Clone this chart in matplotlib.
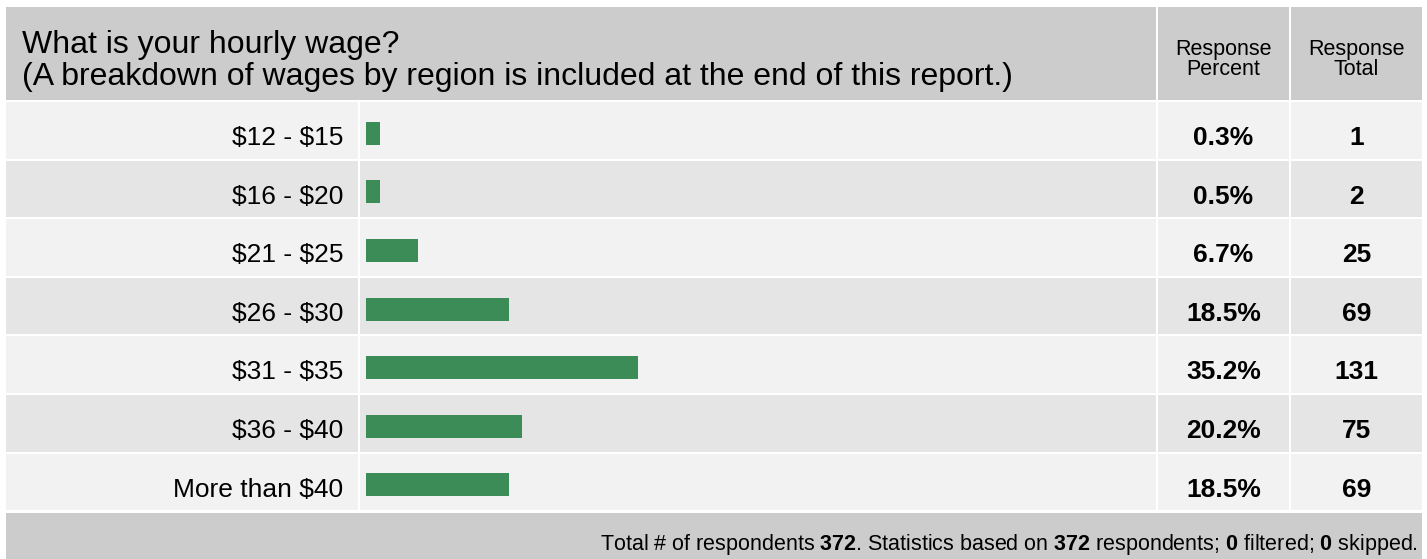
import matplotlib as mpl
mpl.use('Agg')
import matplotlib.pyplot as plt
import matplotlib.patches as mpatches
import numpy as np

mpl.rcParams['font.family'] = ['Liberation Sans', 'DejaVu Sans']
mpl.rcParams['mathtext.fontset'] = 'custom'
mpl.rcParams['mathtext.rm'] = 'Liberation Sans'
mpl.rcParams['mathtext.bf'] = 'Liberation Sans:bold'

# data
question = "What is your hourly wage?"
subtitle = "(A breakdown of wages by region is included at the end of this report.)"
categories = ["$12 - $15", "$16 - $20", "$21 - $25", "$26 - $30",
              "$31 - $35", "$36 - $40", "More than $40"]
percents = [0.3, 0.5, 6.7, 18.5, 35.2, 20.2, 18.5]
totals = [1, 2, 25, 69, 131, 75, 69]
n_respondents = 372
n_based = 372
n_filtered = 0
n_skipped = 0

W, H = 1427, 559
fig = plt.figure(figsize=(W / 100, H / 100), dpi=100)
fig.patch.set_facecolor('white')

bg = fig.add_axes([0, 0, 1, 1])
bg.set_xlim(0, W)
bg.set_ylim(H, 0)
bg.axis('off')

header_c = '#cccccc'
row_c = ['#f2f2f2', '#e5e5e5']
bar_c = '#3c8c58'

left, right = 6, 1422
c1, c2, c3 = 358, 1156, 1289   # column dividers (2px white gaps)
top, head_bot = 7, 100
row0, row_h, gap = 102, 58.6, 2
foot_top = 513

def cell(x0, x1, y0, y1, c):
    bg.add_patch(mpatches.Rectangle((x0, y0), x1 - x0, y1 - y0, color=c, lw=0))

# header
cell(left, c2, top, head_bot, header_c)
cell(c2 + 2, c3, top, head_bot, header_c)
cell(c3 + 2, right, top, head_bot, header_c)
bg.text(22, 53, question, fontsize=23, va='baseline', ha='left')
bg.text(22, 85, subtitle, fontsize=23, va='baseline', ha='left')
pc = (c2 + 2 + c3) / 2
tc = (c3 + 2 + right) / 2
for xc, l2 in [(pc, 'Percent'), (tc, 'Total')]:
    bg.text(xc, 55, 'Response', fontsize=15.5, ha='center', va='baseline')
    bg.text(xc, 75, l2, fontsize=15.5, ha='center', va='baseline')

# rows
for i, (cat, p, t) in enumerate(zip(categories, percents, totals)):
    y0 = row0 + i * row_h
    y1 = y0 + row_h - gap
    c = row_c[i % 2]
    cell(left, c1, y0, y1, c)
    cell(c1 + 2, c2, y0, y1, c)
    cell(c2 + 2, c3, y0, y1, c)
    cell(c3 + 2, right, y0, y1, c)
    bg.text(343, y0 + 43, cat, fontsize=19, ha='right', va='baseline', parse_math=False)
    bg.text(pc, y0 + 43, f'{p:.1f}%', fontsize=19, ha='center', va='baseline', fontweight='bold')
    bg.text(tc, y0 + 43, str(t), fontsize=19, ha='center', va='baseline', fontweight='bold')

# footer
cell(left, right, foot_top, H + 5, header_c)
foot = (f"Total # of respondents $\\mathbf{{{n_respondents}}}$. Statistics based on "
        f"$\\mathbf{{{n_based}}}$ respondents; $\\mathbf{{{n_filtered}}}$ filtered; "
        f"$\\mathbf{{{n_skipped}}}$ skipped.")
bg.text(1418, 550, foot, fontsize=15.5, ha='right', va='baseline')

# bars
px_per_pct = 272 / 35.2
bx0 = 366
ax = fig.add_axes([bx0 / W, 1 - (row0 + 2 + 7 * row_h) / H,
                   (c2 - bx0) / W, 7 * row_h / H])
ax.patch.set_alpha(0)
ax.axis('off')
y = np.arange(len(categories))
ax.barh(y, np.maximum(percents, 1.8), height=23 / row_h, color=bar_c, left=0)
ax.set_xlim(0, (c2 - bx0) / px_per_pct)
ax.set_ylim(len(categories) - 0.5, -0.5)

fig.savefig('out.png', dpi=100)
